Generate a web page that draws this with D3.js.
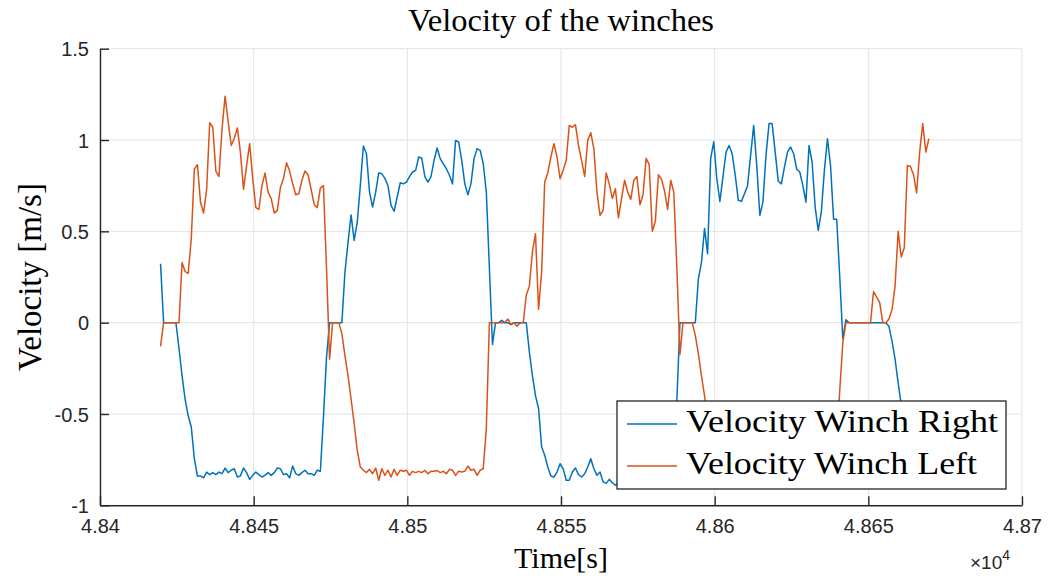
<!DOCTYPE html>
<html>
<head>
<meta charset="utf-8">
<script src="https://cdn.jsdelivr.net/npm/d3@7"></script>
<style>
  html, body { margin: 0; padding: 0; background: #ffffff; }
  svg { display: block; }
</style>
</head>
<body>
<svg id="chart" width="1050" height="576"></svg>
<script>
// ---------------- data ----------------
const startTime = 48419.7;   // s, first sample
const sampleStep = 1;        // s between samples

const velocityRight = [
  0.323, 0, 0, 0, 0, 0, -0.14, -0.29, -0.42, -0.51,
  -0.571, -0.745, -0.84, -0.839, -0.85, -0.818, -0.832, -0.821, -0.832, -0.818,
  -0.827, -0.796, -0.821, -0.808, -0.80, -0.845, -0.839, -0.796, -0.821, -0.858,
  -0.836, -0.818, -0.832, -0.845, -0.836, -0.821, -0.836, -0.821, -0.796, -0.80,
  -0.832, -0.827, -0.85, -0.785, -0.827, -0.836, -0.821, -0.808, -0.827, -0.827,
  -0.836, -0.808, -0.814, -0.52, -0.19, 0, 0, 0, 0, 0,
  0.277, 0.44, 0.59, 0.45, 0.55, 0.75, 0.967, 0.925, 0.715, 0.633,
  0.715, 0.82, 0.815, 0.79, 0.75, 0.642, 0.61, 0.688, 0.766, 0.76,
  0.77, 0.80, 0.825, 0.834, 0.907, 0.90, 0.80, 0.77, 0.80, 0.889,
  0.956, 0.898, 0.87, 0.843, 0.807, 0.76, 0.998, 0.989, 0.889, 0.76,
  0.70, 0.76, 0.898, 0.953, 0.943, 0.87, 0.715, 0.3, -0.12, 0,
  0, 0.013, 0, 0, -0.01, 0, 0, 0, 0, 0,
  -0.16, -0.29, -0.40, -0.47, -0.68, -0.726, -0.79, -0.84, -0.845, -0.818,
  -0.772, -0.80, -0.863, -0.863, -0.818, -0.796, -0.832, -0.845, -0.827, -0.79,
  -0.745, -0.80, -0.836, -0.818, -0.872, -0.88, -0.858, -0.876, -0.89, -0.88,
  -0.86, -0.87, -0.85, -0.86, -0.84, -0.85, -0.86, -0.84, -0.85, -0.86,
  -0.85, -0.84, -0.86, -0.85, -0.84, -0.85, -0.86, -0.85, -0.425, 0,
  0, 0, 0, 0, 0, 0.24, 0.33, 0.515, 0.378, 0.90,
  0.99, 0.788, 0.664, 0.80, 0.934, 0.97, 0.925, 0.807, 0.67, 0.664,
  0.706, 0.75, 0.916, 1.08, 0.86, 0.588, 0.66, 0.916, 1.09, 1.09,
  0.934, 0.774, 0.76, 0.852, 0.934, 0.962, 0.925, 0.84, 0.825, 0.75,
  0.66, 0.97, 0.88, 0.633, 0.505, 0.606, 0.834, 1.007, 0.86, 0.566,
  0.566, 0.25, -0.088, 0.016, 0, 0, 0, 0, 0, 0,
  0, 0, 0, 0, 0, 0, 0, -0.02, -0.10, -0.2,
  -0.33, -0.45, -0.58, -0.70, -0.80, -0.84, -0.82, -0.85, -0.83, -0.84, -0.82
];

const velocityLeft = [
  -0.13, 0, 0, 0, 0, 0, 0, 0.33, 0.28, 0.27,
  0.46, 0.84, 0.865, 0.66, 0.60, 0.73, 1.095, 1.07, 0.83, 0.80,
  1.06, 1.24, 1.10, 0.97, 1.01, 1.066, 0.93, 0.73, 0.86, 0.98,
  0.79, 0.63, 0.62, 0.75, 0.82, 0.715, 0.68, 0.60, 0.615, 0.74,
  0.79, 0.875, 0.83, 0.76, 0.70, 0.706, 0.78, 0.83, 0.81, 0.73,
  0.646, 0.63, 0.737, 0.75, 0.30, -0.20, 0, 0, 0, -0.06,
  -0.18, -0.29, -0.42, -0.55, -0.70, -0.79, -0.808, -0.821, -0.803, -0.827,
  -0.796, -0.863, -0.80, -0.836, -0.808, -0.845, -0.803, -0.836, -0.808, -0.814,
  -0.808, -0.836, -0.814, -0.821, -0.814, -0.821, -0.808, -0.827, -0.814, -0.814,
  -0.81, -0.821, -0.814, -0.827, -0.803, -0.808, -0.836, -0.814, -0.818, -0.814,
  -0.785, -0.808, -0.803, -0.836, -0.808, -0.80, -0.58, 0, 0, 0,
  0, 0, 0, 0.02, -0.01, 0, -0.02, 0, 0, 0.15,
  0.20, 0.387, 0.487, 0.073, 0.277, 0.77, 0.82, 0.907, 0.98, 0.907,
  0.788, 0.834, 0.889, 1.08, 1.07, 1.084, 0.97, 0.889, 0.80, 0.998,
  1.04, 0.95, 0.715, 0.588, 0.615, 0.82, 0.76, 0.68, 0.733, 0.573,
  0.68, 0.78, 0.715, 0.675, 0.78, 0.80, 0.646, 0.70, 0.90, 0.865,
  0.50, 0.555, 0.81, 0.785, 0.72, 0.62, 0.78, 0.715, 0.30, -0.175,
  0, 0, 0, 0, -0.07, -0.17, -0.29, -0.40, -0.55, -0.68,
  -0.78, -0.81, -0.82, -0.80, -0.83, -0.81, -0.82, -0.80, -0.84, -0.81,
  -0.82, -0.81, -0.83, -0.80, -0.82, -0.81, -0.84, -0.81, -0.82, -0.80,
  -0.82, -0.83, -0.81, -0.82, -0.80, -0.83, -0.81, -0.82, -0.81, -0.84,
  -0.81, -0.82, -0.80, -0.82, -0.81, -0.83, -0.81, -0.82, -0.80, -0.80,
  -0.65, -0.37, -0.11, 0, 0, 0, 0, 0, 0, 0,
  0, 0, 0.17, 0.14, 0.11, 0, 0, 0.02, 0.07, 0.2,
  0.5, 0.36, 0.41, 0.86, 0.855, 0.81, 0.71, 0.934, 1.09, 0.934, 1.007
];

const seriesNames = ["Velocity Winch Right", "Velocity Winch Left"];
const seriesColors = ["#0072BD", "#D95319"];

const xTickValues = [48400, 48450, 48500, 48550, 48600, 48650, 48700];
const xTickLabels = ["4.84", "4.845", "4.85", "4.855", "4.86", "4.865", "4.87"];
const yTickValues = [-1, -0.5, 0, 0.5, 1, 1.5];
const yTickLabels = ["-1", "-0.5", "0", "0.5", "1", "1.5"];

const titleText = "Velocity of the winches";
const xLabelText = "Time[s]";
const yLabelText = "Velocity [m/s]";

// ---------------- layout ----------------
const plot = { left: 100, right: 1022, top: 48.7, bottom: 505.3 };
const axisColor = "#262626";
const gridColor = "#e3e3e3";
const sansFont = "'Liberation Sans', Arial, Helvetica, sans-serif";
const serifFont = "'Liberation Serif', 'Times New Roman', serif";

const svg = d3.select("#chart");

const x = d3.scaleLinear().domain([48400, 48700]).range([plot.left, plot.right]);
const y = d3.scaleLinear().domain([-1, 1.5]).range([plot.bottom, plot.top]);

// grid
const grid = svg.append("g");
grid.selectAll("line.vg").data(xTickValues).join("line")
  .attr("x1", d => x(d)).attr("x2", d => x(d))
  .attr("y1", plot.top).attr("y2", plot.bottom)
  .attr("stroke", gridColor).attr("stroke-width", 1);
grid.selectAll("line.hg").data(yTickValues).join("line")
  .attr("x1", plot.left).attr("x2", plot.right)
  .attr("y1", d => y(d)).attr("y2", d => y(d))
  .attr("stroke", gridColor).attr("stroke-width", 1);

// lines
const times = velocityRight.map((_, i) => startTime + i * sampleStep);
const allSeries = [velocityRight, velocityLeft];
const lineGen = d3.line().x(d => x(d[0])).y(d => y(d[1]));
const linesG = svg.append("g");
allSeries.forEach((vals, si) => {
  linesG.append("path")
    .datum(vals.map((v, i) => [times[i], v]))
    .attr("d", lineGen)
    .attr("fill", "none")
    .attr("stroke", seriesColors[si])
    .attr("stroke-width", 1.5)
    .attr("stroke-linejoin", "round");
});

// axes (MATLAB-like, inward ticks, box off)
const xAxis = d3.axisBottom(x).tickValues(xTickValues)
  .tickFormat((d, i) => xTickLabels[i]).tickSizeInner(-9).tickSizeOuter(0).tickPadding(14);
const yAxis = d3.axisLeft(y).tickValues(yTickValues)
  .tickFormat((d, i) => yTickLabels[i]).tickSizeInner(-9).tickSizeOuter(0).tickPadding(11);

const gx = svg.append("g").attr("transform", `translate(0,${plot.bottom})`).call(xAxis);
const gy = svg.append("g").attr("transform", `translate(${plot.left},0)`).call(yAxis);
[gx, gy].forEach(g => {
  g.select(".domain").attr("stroke", axisColor).attr("stroke-width", 1.4);
  g.selectAll(".tick line").attr("stroke", axisColor).attr("stroke-width", 1.4);
  g.selectAll(".tick text").attr("fill", axisColor)
    .style("font-family", sansFont).style("font-size", "20px");
});
gy.selectAll(".tick text").attr("dy", "0.36em");

// exponent label
const expLabel = svg.append("text")
  .attr("x", 1010).attr("y", 569)
  .attr("text-anchor", "end")
  .attr("fill", axisColor)
  .style("font-family", sansFont).style("font-size", "19px");
expLabel.append("tspan").text("\u00D710");
expLabel.append("tspan").attr("dy", -9).style("font-size", "14px").text("4");

// title & labels
svg.append("text")
  .attr("x", 561).attr("y", 31)
  .attr("text-anchor", "middle")
  .attr("fill", "#000")
  .attr("textLength", 306).attr("lengthAdjust", "spacingAndGlyphs")
  .style("font-family", serifFont).style("font-size", "31px")
  .text(titleText);

svg.append("text")
  .attr("x", 561).attr("y", 568)
  .attr("text-anchor", "middle")
  .attr("fill", "#000")
  .style("font-family", serifFont).style("font-size", "30px")
  .text(xLabelText);

svg.append("text")
  .attr("transform", `translate(41,${277}) rotate(-90)`)
  .attr("text-anchor", "middle")
  .attr("fill", "#000")
  .style("font-family", serifFont).style("font-size", "33px")
  .text(yLabelText);

// legend
const legend = { x: 617, y: 401, w: 389, h: 88 };
const lg = svg.append("g");
lg.append("rect")
  .attr("x", legend.x).attr("y", legend.y)
  .attr("width", legend.w).attr("height", legend.h)
  .attr("fill", "#ffffff").attr("stroke", axisColor).attr("stroke-width", 1.3);
const legendRows = [424, 466];
const legendTextLen = [312, 291];
seriesNames.forEach((name, i) => {
  lg.append("line")
    .attr("x1", 627).attr("x2", 677)
    .attr("y1", legendRows[i]).attr("y2", legendRows[i])
    .attr("stroke", seriesColors[i]).attr("stroke-width", 1.5);
  lg.append("text")
    .attr("x", 686).attr("y", legendRows[i] + 8)
    .attr("fill", "#000")
    .attr("textLength", legendTextLen[i]).attr("lengthAdjust", "spacingAndGlyphs")
    .style("font-family", serifFont).style("font-size", "32px")
    .text(name);
});
</script>
</body>
</html>
